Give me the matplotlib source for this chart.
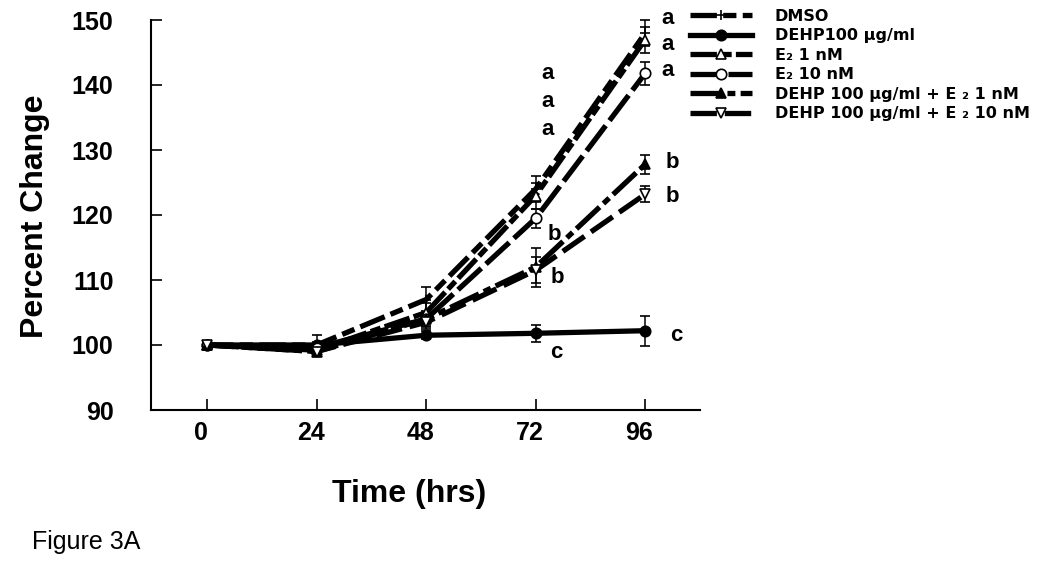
import matplotlib.pyplot as plt
from matplotlib.lines import Line2D
from matplotlib.transforms import ScaledTranslation

plt.rcParams['font.family'] = ['Liberation Sans', 'DejaVu Sans']
plt.rcParams['font.weight'] = 'bold'

# datos
horas = [0, 24, 48, 72, 96]
dmso = [100, 100, 107, 124, 148]
dmso_err = [0.3, 1.5, 2.0, 2.0, 2.0]
dehp = [100, 100, 101.5, 101.8, 102.2]
dehp_err = [0.3, 0.5, 0.6, 1.3, 2.3]
e2_1 = [100, 99.2, 105, 123, 147]
e2_1_err = [0.3, 0.6, 1.5, 2.0, 2.0]
e2_10 = [100, 99.6, 104, 119.5, 141.8]
e2_10_err = [0.3, 0.5, 1.2, 1.5, 1.8]
dehp_e2_1 = [100, 99, 104, 112, 127.8]
dehp_e2_1_err = [0.3, 0.6, 1.0, 3.0, 1.5]
dehp_e2_10 = [100, 99, 103.5, 111.5, 123.2]
dehp_e2_10_err = [0.3, 0.6, 1.0, 2.0, 1.2]

etiquetas = ['DMSO', 'DEHP100 µg/ml', 'E₂ 1 nM', 'E₂ 10 nM',
             'DEHP 100 µg/ml + E ₂ 1 nM', 'DEHP 100 µg/ml + E ₂ 10 nM']

# letras de significancia (x, y, texto)
letras_x = [101, 101, 101, 74.6, 74.6, 74.6, 102, 102, 76.1, 76.8, 102.8, 76.6]
letras_y = [150.3, 146.2, 142.2, 141.7, 137.4, 133.2, 128.1, 122.9, 117.0, 110.4, 101.5, 98.8]
letras = ['a', 'a', 'a', 'a', 'a', 'a', 'b', 'b', 'b', 'b', 'c', 'c']

series = [
    (dmso, dmso_err, (0, (5, 1.2, 2.5, 1.2)), '+', 'black'),
    (dehp, dehp_err, '-', 'o', 'black'),
    (e2_1, e2_1_err, (0, (5, 0.8, 2, 0.8)), '^', 'white'),
    (e2_10, e2_10_err, (0, (6, 1.2)), 'o', 'white'),
    (dehp_e2_1, dehp_e2_1_err, (0, (6, 1, 1.5, 1)), '^', 'black'),
    (dehp_e2_10, dehp_e2_10_err, (0, (5, 1.5)), 'v', 'white'),
]

fig = plt.figure(figsize=(10.5, 5.76), dpi=100)
ax = fig.add_axes([151 / 1050, 1 - 410 / 576, 549 / 1050, 390 / 576])

handles = []
for (vals, err, ls, mk, fc), lab in zip(series, etiquetas):
    ax.errorbar(horas, vals, yerr=err, color='black', ls=ls, lw=3.8,
                marker=mk, ms=7.5, mfc=fc, mec='black', mew=1.2,
                ecolor='black', elinewidth=1.1, capsize=3.5, capthick=1.1,
                clip_on=False)
    handles.append(Line2D([], [], color='black', ls=ls, lw=3.8, marker=mk,
                          ms=7.5, mfc=fc, mec='black', mew=1.2, label=lab))

for x, y, t in zip(letras_x, letras_y, letras):
    ax.text(x, y, t, fontsize=16, fontweight='bold', ha='center', va='center',
            clip_on=False)

ax.set_xlim(-12.3, 108)
ax.set_ylim(90, 150)
ax.set_xticks(horas)
ax.set_yticks([90, 100, 110, 120, 130, 140, 150])
ax.tick_params(direction='in', length=8, width=1.2, labelsize=18)
ax.tick_params(axis='y', pad=27)
ax.tick_params(axis='x', pad=8)
desplazar = ScaledTranslation(-6 / 100, 0, fig.dpi_scale_trans)
for lab in ax.get_xticklabels():
    lab.set_transform(lab.get_transform() + desplazar)
for lab in ax.get_xticklabels() + ax.get_yticklabels():
    lab.set_fontweight('bold')
ax.spines['top'].set_visible(False)
ax.spines['right'].set_visible(False)
ax.spines['left'].set_linewidth(1.5)
ax.spines['bottom'].set_linewidth(1.5)

fig.text(409 / 1050, 1 - 494 / 576, 'Time (hrs)', fontsize=23,
         fontweight='bold', ha='center', va='center')
fig.text(35 / 1050, 1 - 216 / 576, 'Percent Change', fontsize=23,
         fontweight='bold', ha='center', va='center', rotation=90)

leg = fig.legend(handles=handles, loc='upper left',
                 bbox_to_anchor=(690 / 1050, 1 - 9 / 576), frameon=False,
                 prop={'family': 'DejaVu Sans', 'weight': 'bold', 'size': 11.5},
                 handlelength=3.9, labelspacing=0.28, handletextpad=1.4,
                 borderaxespad=0, borderpad=0)

fig.text(32 / 1050, 1 - 542 / 576, 'Figure 3A', fontsize=18,
         fontweight='normal', va='center')

fig.savefig('out.png', dpi=100)
